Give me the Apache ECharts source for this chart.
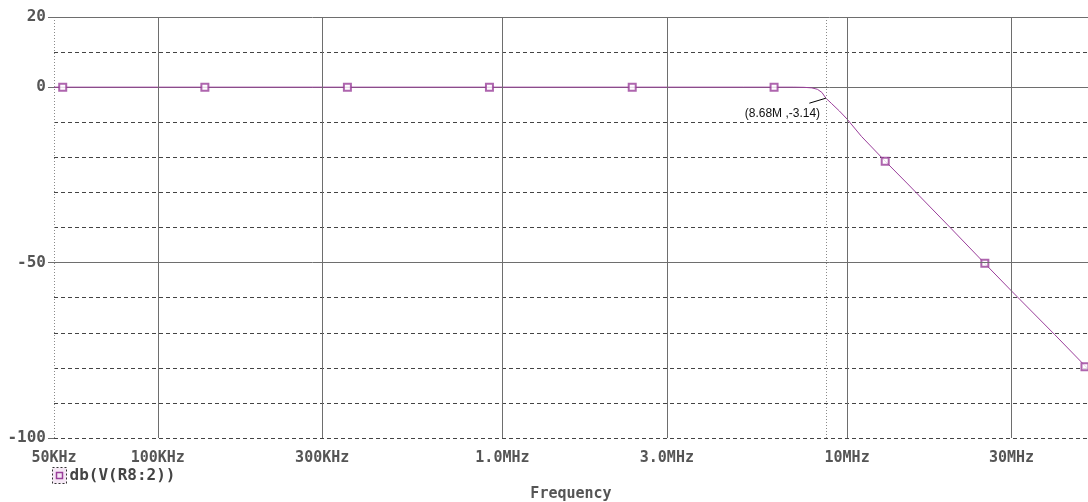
<!DOCTYPE html>
<html>
<head>
<meta charset="utf-8">
<script src="https://cdn.jsdelivr.net/npm/echarts@6/dist/echarts.min.js"></script>
<style>
html, body { margin: 0; padding: 0; background: #fff; }
#chart { width: 1088px; height: 502px; }
</style>
</head>
<body>
<div id="chart"></div>
<script>
// frequency response (Hz, dB)
var curveFreq = [5e4, 1e5, 1e6, 5e6, 7e6, 7.5e6, 7.9e6, 8.2e6, 8.45e6, 8.68e6, 9.0e6, 9.5e6, 1e7, 1.1e7, 1.29e7, 1.5e7, 2e7, 2.5e7, 3e7, 4e7, 5e7];
var curveDb   = [0, 0, 0, 0, 0, -0.05, -0.2, -0.6, -1.5, -3.14, -4.6, -6.8, -9.1, -14.0, -21.1, -27.6, -40.2, -50.1, -58.1, -70.5, -80.3];

// square markers along the trace
var markerFreq = [5.3e4, 1.37e5, 3.55e5, 9.17e5, 2.38e6, 6.14e6, 1.29e7, 2.51e7, 4.9e7];
var markerDb   = [0, 0, 0, 0, 0, 0, -21.1, -50.2, -79.7];

var xTickValues = [5e4, 1e5, 3e5, 1e6, 3e6, 1e7, 3e7];
var xTickLabels = ['50KHz', '100KHz', '300KHz', '1.0MHz', '3.0MHz', '10MHz', '30MHz'];
var ySolidLines = [20, -50];

var cursorFreq = 8.68e6;
var cursorDb = -3.14;
var cursorText = '(8.68M ,-3.14)';

var traceColor = '#9a3e9a';
var gridColor = '#6e6e6e';
var labelFont = 'DejaVu Sans Mono';

var chart = echarts.init(document.getElementById('chart'));

var markLines = [];
xTickValues.forEach(function (v, i) {
    markLines.push({
        xAxis: v,
        name: xTickLabels[i],
        lineStyle: { color: i === 0 ? '#8a8a8a' : gridColor, type: i === 0 ? [1, 2] : 'solid', width: 1 }
    });
});
markLines.push({ xAxis: cursorFreq, label: { show: false }, lineStyle: { color: '#8a8a8a', type: [1, 2], width: 1 } });
ySolidLines.forEach(function (v) {
    markLines.push({ yAxis: v, label: { show: false }, lineStyle: { color: gridColor, type: 'solid', width: 1 } });
});
markLines.push([
    { coord: [7.77e6, -4.57], lineStyle: { color: '#000', type: 'solid', width: 1 }, label: { show: false } },
    { coord: [cursorFreq, cursorDb] }
]);

chart.setOption({
    animation: false,
    grid: { left: 54, right: 0, top: 17, bottom: 64, outerBoundsMode: 'none', containLabel: false },
    xAxis: {
        type: 'log',
        min: 5e4,
        max: 5e7,
        name: 'Frequency',
        nameLocation: 'middle',
        nameGap: 49,
        nameTextStyle: { fontFamily: labelFont, fontWeight: 'bold', fontSize: 15, color: '#555' },
        axisLine: { show: true, lineStyle: { color: gridColor, width: 1 } },
        axisTick: { show: false },
        axisLabel: { show: false },
        splitLine: { show: false }
    },
    yAxis: [{
        type: 'value',
        min: -100,
        max: 20,
        interval: 10,
        axisLine: { show: false },
        axisTick: { show: false },
        axisLabel: { show: false },
        splitLine: { show: true, lineStyle: { color: '#444', type: [4, 3], width: 1 } }
    }, {
        type: 'value',
        position: 'left',
        min: -100,
        max: 20,
        interval: 50,
        axisLine: { show: false },
        axisTick: { show: true, length: 6, lineStyle: { color: gridColor } },
        axisLabel: { margin: 8, padding: [9, 0, 0, 0], fontFamily: labelFont, fontWeight: 'bold', fontSize: 16, color: '#555' },
        splitLine: { show: false }
    }],
    series: [{
        name: 'db(V(R8:2))',
        type: 'line',
        data: curveFreq.map(function (f, i) { return [f, curveDb[i]]; }),
        showSymbol: false,
        lineStyle: { color: traceColor, width: 1 },
        itemStyle: { color: traceColor },
        z: 3,
        markLine: {
            silent: true,
            symbol: ['none', 'none'],
            animation: false,
            label: {
                show: true,
                position: 'start',
                distance: 13,
                formatter: '{b}',
                fontFamily: labelFont,
                fontWeight: 'bold',
                fontSize: 15,
                color: '#555'
            },
            data: markLines
        },
        markPoint: {
            silent: true,
            symbol: 'circle',
            symbolSize: 0,
            label: {
                show: true,
                position: [0, 0],
                align: 'right',
                verticalAlign: 'middle',
                formatter: function () { return cursorText; },
                fontFamily: 'Liberation Sans',
                fontSize: 12,
                color: '#111'
            },
            data: [{ coord: [8.35e6, -7.43] }]
        }
    }, {
        name: 'markers',
        type: 'scatter',
        data: markerFreq.map(function (f, i) { return [f, markerDb[i]]; }),
        symbol: 'emptyRect',
        symbolSize: 7,
        itemStyle: { color: traceColor, borderColor: traceColor, borderWidth: 1.5 },
        z: 4
    }],
    graphic: [{
        type: 'group',
        left: 52,
        top: 467,
        children: [{
            type: 'rect',
            shape: { x: 0, y: 0, width: 14, height: 16 },
            style: { fill: '#f5e8f5', stroke: '#333', lineWidth: 1, lineDash: [2, 2] }
        }, {
            type: 'rect',
            shape: { x: 4, y: 5, width: 6, height: 6 },
            style: { fill: 'none', stroke: traceColor, lineWidth: 1.5 }
        }, {
            type: 'text',
            x: 17,
            y: 8,
            style: {
                text: 'db(V(R8:2))',
                fontFamily: labelFont,
                fontWeight: 'bold',
                fontSize: 16,
                fill: '#444',
                verticalAlign: 'middle'
            }
        }]
    }]
});
</script>
</body>
</html>
